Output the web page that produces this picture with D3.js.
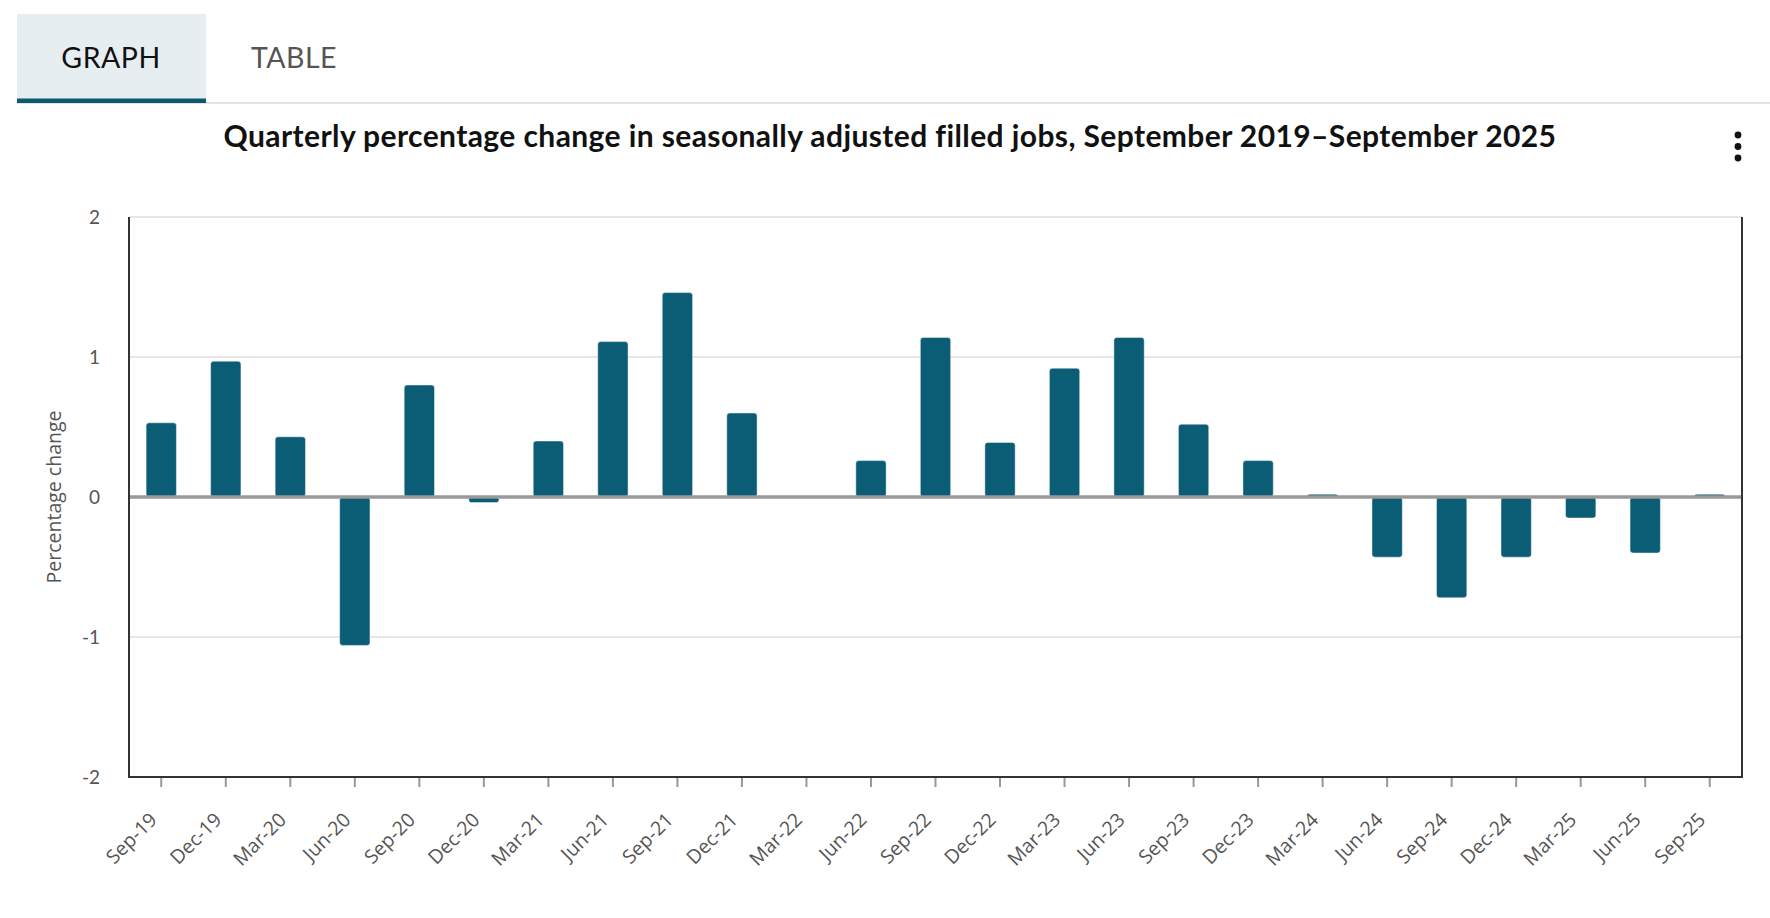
<!DOCTYPE html>
<meta charset="utf-8">
<head>
<style>
  body { margin: 0; background: #ffffff; }
</style>
</head>

<!-- Load d3.js -->
<script src="https://d3js.org/d3.v7.min.js"></script>

<body>
  <div id="my_dataviz"></div>
</body>

<script>

  // quarters shown on the x axis
  var quarters = ["Sep-19", "Dec-19", "Mar-20", "Jun-20", "Sep-20", "Dec-20", "Mar-21", "Jun-21",
                  "Sep-21", "Dec-21", "Mar-22", "Jun-22", "Sep-22", "Dec-22", "Mar-23", "Jun-23",
                  "Sep-23", "Dec-23", "Mar-24", "Jun-24", "Sep-24", "Dec-24", "Mar-25", "Jun-25", "Sep-25"];

  // quarterly % change in seasonally adjusted filled jobs
  var pctChange = [0.53, 0.97, 0.43, -1.06, 0.80, -0.04, 0.40, 1.11,
                   1.46, 0.60, 0.00, 0.26, 1.14, 0.39, 0.92, 1.14,
                   0.52, 0.26, 0.02, -0.43, -0.72, -0.43, -0.15, -0.40, 0.02];

  var yTicks = [-2, -1, 0, 1, 2];

  var tabs = ["GRAPH", "TABLE"];

  var titleText = "Quarterly percentage change in seasonally adjusted filled jobs, September 2019\u2013September 2025";

  var W = 1770, H = 918;
  var plot = {left: 129, right: 1742, top: 217, bottom: 777};

  var svg = d3.select("#my_dataviz")
    .append("svg")
      .attr("width", W)
      .attr("height", H);

  // tab strip
  svg.append("rect").attr("x", 17).attr("y", 14).attr("width", 189).attr("height", 86).attr("fill", "#e6eef1");
  svg.append("rect").attr("x", 17).attr("y", 102).attr("width", W - 17).attr("height", 2).attr("fill", "#e4e4e4");
  svg.append("rect").attr("x", 17).attr("y", 98.5).attr("width", 189).attr("height", 4.5).attr("fill", "#0b5a70");

  svg.selectAll(".tab")
    .data(tabs)
    .enter()
    .append("text")
      .attr("class", "tab")
      .attr("x", function(d, i) { return i == 0 ? 111 : 294; })
      .attr("y", 68)
      .attr("text-anchor", "middle")
      .style("font-family", "Lato, 'Open Sans', sans-serif")
      .style("font-size", "28.5px")
      .style("letter-spacing", "0.5px")
      .style("fill", function(d, i) { return i == 0 ? "#111111" : "#555555"; })
      .text(function(d) { return d; });

  // title
  svg.append("text")
    .attr("x", 890)
    .attr("y", 147)
    .attr("text-anchor", "middle")
    .style("font-family", "Lato, 'Open Sans', sans-serif")
    .style("font-weight", "bold")
    .style("font-size", "30px")
    .style("letter-spacing", "0.4px")
    .style("fill", "#111111")
    .text(titleText);

  // kebab menu
  svg.selectAll(".dot")
    .data([0, 1, 2])
    .enter()
    .append("circle")
      .attr("cx", 1738)
      .attr("cy", function(d) { return 135 + d * 11.5; })
      .attr("r", 3.4)
      .attr("fill", "#111111");

  // scales
  var x = d3.scaleBand()
    .domain(quarters)
    .range([plot.left, plot.right])
    .paddingInner(0.53)
    .paddingOuter(0.265);

  var y = d3.scaleLinear()
    .domain([-2, 2])
    .range([plot.bottom, plot.top]);

  // gridlines
  svg.append("g")
    .selectAll("line")
    .data(yTicks.filter(function(d) { return d != 0 && d != -2; }))
    .enter()
    .append("line")
      .attr("x1", plot.left)
      .attr("x2", plot.right)
      .attr("y1", function(d) { return y(d); })
      .attr("y2", function(d) { return y(d); })
      .attr("stroke", "#e6e6e6")
      .attr("stroke-width", 2);

  // y tick labels
  svg.append("g")
    .selectAll("text")
    .data(yTicks)
    .enter()
    .append("text")
      .attr("x", 100)
      .attr("y", function(d) { return y(d); })
      .attr("dy", "0.35em")
      .attr("text-anchor", "end")
      .style("font-family", "Lato, 'Open Sans', sans-serif")
      .style("font-size", "19px")
      .style("fill", "#555555")
      .text(function(d) { return d; });

  // y axis title
  svg.append("text")
    .attr("transform", "translate(61," + y(0) + ") rotate(-90)")
    .attr("text-anchor", "middle")
    .style("font-family", "'Open Sans', sans-serif")
    .style("font-size", "19.5px")
    .style("fill", "#555555")
    .text("Percentage change");

  // bars
  svg.append("g")
    .selectAll("rect")
    .data(pctChange)
    .enter()
    .append("rect")
      .attr("x", function(d, i) { return x(quarters[i]); })
      .attr("width", x.bandwidth())
      .attr("y", function(d) { return y(Math.max(0, d)); })
      .attr("height", function(d) { return Math.abs(y(d) - y(0)); })
      .attr("rx", 3)
      .attr("fill", "#0a5d75")
      .attr("stroke", "rgba(255,255,255,0.45)")
      .attr("stroke-width", 1);

  // zero line
  svg.append("line")
    .attr("x1", plot.left)
    .attr("x2", plot.right)
    .attr("y1", y(0))
    .attr("y2", y(0))
    .attr("stroke", "#999999")
    .attr("stroke-width", 3.5);

  // x axis with ticks and rotated labels
  var xAxis = svg.append("g")
    .attr("transform", "translate(0," + plot.bottom + ")")
    .call(d3.axisBottom(x).tickSize(10).tickSizeOuter(0));

  xAxis.select(".domain").remove();
  xAxis.selectAll(".tick line").attr("stroke", "#999999").attr("stroke-width", 2);
  xAxis.selectAll(".tick text")
    .attr("text-anchor", "end")
    .attr("dx", 0)
    .attr("dy", 0)
    .attr("y", 0)
    .attr("transform", "translate(-3,44) rotate(-45)")
    .style("font-family", "'Open Sans', sans-serif")
    .style("font-size", "19.5px")
    .style("fill", "#555555");

  // plot frame: left, bottom and right sides
  svg.append("path")
    .attr("d", "M" + plot.left + "," + plot.top + "V" + plot.bottom + "H" + plot.right + "V" + plot.top)
    .attr("fill", "none")
    .attr("stroke", "#333333")
    .attr("stroke-width", 2);

  // top gridline (y = 2)
  svg.append("line")
    .attr("x1", plot.left + 1)
    .attr("x2", plot.right - 1)
    .attr("y1", y(2))
    .attr("y2", y(2))
    .attr("stroke", "#e6e6e6")
    .attr("stroke-width", 2);

</script>
